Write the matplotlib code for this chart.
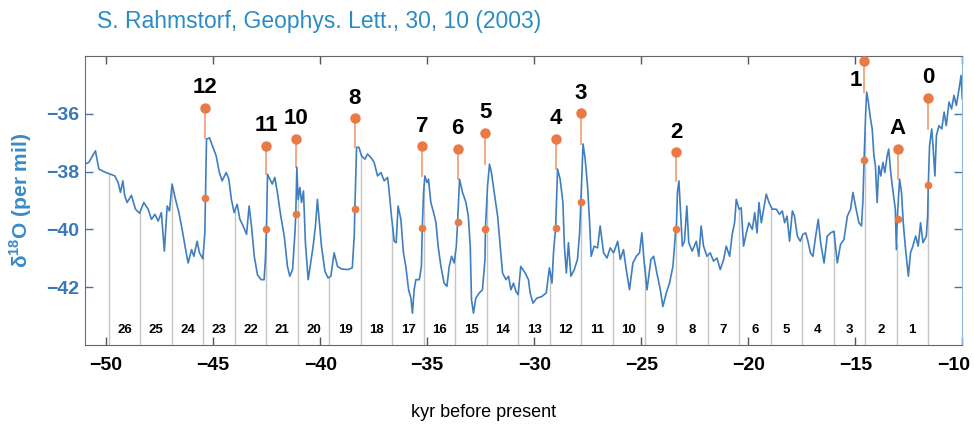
import matplotlib.pyplot as plt
import matplotlib.transforms as mtransforms
import numpy as np

plt.rcParams['font.family'] = ['Liberation Sans', 'DejaVu Sans']
plt.rcParams['mathtext.fontset'] = 'custom'
plt.rcParams['mathtext.rm'] = 'Liberation Sans'
plt.rcParams['mathtext.bf'] = 'Liberation Sans:bold'

# GISP2 delta-18O record (kyr before present, per mil)
age = [-51.0, -50.81, -50.50, -50.34, -50.11, -49.80, -49.59, -49.44, -49.33, -49.22,
       -49.13, -49.02, -48.82, -48.63, -48.44, -48.24, -48.04, -47.88, -47.72, -47.57,
       -47.42, -47.28, -47.15, -47.04, -46.92, -46.76, -46.60, -46.45, -46.26, -46.17,
       -46.01, -45.90, -45.75, -45.64, -45.48, -45.39, -45.36, -45.31, -45.17, -45.01,
       -44.86, -44.71, -44.58, -44.39, -44.27, -44.15, -44.02, -43.88, -43.75, -43.60,
       -43.44, -43.32, -43.21, -43.08, -42.93, -42.76, -42.62, -42.56, -42.51, -42.46,
       -42.35, -42.24, -42.12, -42.00, -41.84, -41.68, -41.53, -41.42, -41.29, -41.18,
       -41.14, -41.09, -41.03, -40.95, -40.87, -40.78, -40.69, -40.56, -40.47, -40.33,
       -40.22, -40.13, -40.05, -39.94, -39.78, -39.63, -39.50, -39.35, -39.19, -39.00,
       -38.69, -38.50, -38.41, -38.38, -38.30, -38.19, -38.07, -37.91, -37.79, -37.63,
       -37.48, -37.32, -37.16, -37.01, -36.85, -36.78, -36.67, -36.54, -36.45, -36.36,
       -36.23, -36.11, -36.00, -35.87, -35.76, -35.69, -35.61, -35.53, -35.37, -35.27,
       -35.23, -35.17, -35.11, -35.01, -34.94, -34.83, -34.70, -34.59, -34.49, -34.36,
       -34.21, -34.08, -33.97, -33.86, -33.74, -33.64, -33.58, -33.49, -33.35, -33.19,
       -33.08, -32.99, -32.93, -32.84, -32.73, -32.57, -32.42, -32.30, -32.28, -32.18,
       -32.09, -32.00, -31.87, -31.71, -31.59, -31.48, -31.32, -31.20, -31.09, -30.97,
       -30.85, -30.75, -30.63, -30.42, -30.27, -30.19, -30.06, -29.88, -29.64, -29.44,
       -29.29, -29.17, -29.10, -29.00, -28.91, -28.79, -28.66, -28.59, -28.50, -28.40,
       -28.29, -28.13, -27.98, -27.88, -27.82, -27.72, -27.62, -27.51, -27.42, -27.34,
       -27.20, -27.04, -26.92, -26.76, -26.60, -26.45, -26.29, -26.10, -25.98, -25.83,
       -25.70, -25.55, -25.39, -25.23, -25.08, -24.97, -24.86, -24.73, -24.55, -24.42,
       -24.27, -24.11, -23.99, -23.83, -23.68, -23.52, -23.40, -23.36, -23.31, -23.24,
       -23.17, -23.08, -22.98, -22.87, -22.78, -22.62, -22.43, -22.31, -22.20, -22.09,
       -21.93, -21.78, -21.62, -21.46, -21.31, -21.15, -21.03, -20.87, -20.75, -20.64,
       -20.56, -20.43, -20.33, -20.22, -20.09, -19.97, -19.81, -19.70, -19.59, -19.50,
       -19.39, -19.28, -19.16, -19.03, -18.88, -18.69, -18.54, -18.41, -18.30, -18.19,
       -18.07, -17.94, -17.84, -17.71, -17.57, -17.45, -17.32, -17.21, -17.10, -16.98,
       -16.85, -16.73, -16.62, -16.46, -16.31, -16.15, -16.00, -15.84, -15.69, -15.53,
       -15.37, -15.22, -15.11, -14.99, -14.83, -14.71, -14.64, -14.59, -14.52, -14.47,
       -14.39, -14.29, -14.21, -14.13, -14.06, -13.98, -13.90, -13.81, -13.71, -13.62,
       -13.51, -13.44, -13.36, -13.29, -13.21, -13.13, -13.08, -13.04, -12.93, -12.84,
       -12.76, -12.65, -12.52, -12.42, -12.31, -12.18, -12.06, -11.95, -11.84, -11.68,
       -11.62, -11.59, -11.53, -11.43, -11.37, -11.28, -11.21, -11.09, -10.96, -10.85,
       -10.75, -10.62, -10.50, -10.39, -10.28, -10.15, -10.06, -10.00]
d18o = [-37.74, -37.68, -37.28, -37.91, -38.00, -38.09, -38.15, -38.38, -38.72, -38.32,
        -38.84, -39.07, -38.82, -39.30, -39.44, -39.07, -39.30, -39.65, -39.48, -39.71,
        -39.42, -40.75, -39.19, -39.36, -38.43, -38.96, -39.42, -40.00, -40.81, -41.16,
        -40.70, -40.93, -40.41, -40.81, -41.02, -40.12, -38.90, -36.87, -36.83, -37.16,
        -37.45, -38.03, -38.32, -38.03, -38.26, -38.96, -39.42, -39.13, -39.65, -39.88,
        -40.17, -39.19, -39.88, -40.93, -41.57, -41.74, -41.74, -41.04, -39.98, -38.09,
        -38.26, -38.43, -38.20, -38.72, -39.54, -40.23, -41.28, -41.62, -41.39, -40.12,
        -39.48, -37.85, -38.96, -38.55, -39.07, -38.67, -40.46, -41.74, -41.28, -40.58,
        -39.88, -38.96, -39.65, -40.58, -41.45, -41.68, -41.62, -40.81, -41.28, -41.37,
        -41.39, -41.33, -40.23, -39.28, -37.16, -37.16, -37.45, -37.57, -37.39, -37.51,
        -37.68, -38.15, -38.03, -38.32, -38.20, -38.67, -39.54, -40.41, -40.46, -39.19,
        -39.65, -40.81, -41.28, -42.09, -42.38, -42.90, -42.09, -41.74, -41.74, -41.28,
        -39.94, -38.72, -38.15, -38.38, -38.26, -39.07, -39.42, -39.77, -40.58, -41.28,
        -41.86, -41.97, -41.28, -40.93, -41.16, -40.58, -39.75, -38.26, -38.72, -39.07,
        -39.54, -40.58, -42.43, -42.90, -42.38, -42.20, -42.09, -41.04, -39.97, -38.49,
        -37.74, -38.03, -38.72, -39.54, -40.58, -41.51, -41.74, -41.62, -42.09, -41.86,
        -42.15, -42.26, -41.28, -41.51, -41.74, -42.20, -42.55, -42.38, -42.32, -42.20,
        -41.33, -41.86, -40.81, -39.94, -37.91, -38.26, -39.07, -40.58, -41.51, -40.46,
        -41.62, -41.39, -41.04, -40.12, -39.04, -37.04, -37.57, -38.49, -39.65, -40.93,
        -40.58, -40.64, -39.88, -40.81, -40.99, -40.64, -40.81, -40.41, -41.04, -40.70,
        -41.39, -42.09, -41.16, -40.93, -40.81, -40.12, -41.16, -42.09, -41.04, -40.93,
        -41.51, -42.09, -42.67, -42.20, -41.86, -41.28, -40.12, -39.97, -38.72, -38.32,
        -39.30, -40.58, -40.41, -39.19, -40.46, -40.75, -40.41, -40.93, -39.88, -40.58,
        -40.93, -40.81, -41.10, -40.99, -41.39, -41.04, -40.58, -40.93, -40.17, -39.77,
        -38.96, -39.30, -39.25, -40.58, -40.12, -39.77, -40.00, -39.42, -40.12, -39.07,
        -39.77, -39.30, -38.78, -39.07, -39.30, -39.30, -39.48, -39.36, -39.77, -39.54,
        -40.41, -39.36, -39.54, -40.23, -40.41, -40.17, -40.12, -40.41, -40.81, -40.93,
        -40.23, -39.65, -40.46, -41.16, -40.23, -40.12, -40.06, -41.16, -40.52, -40.35,
        -39.54, -39.30, -38.72, -39.19, -39.77, -39.88, -38.96, -37.60, -36.06, -35.25,
        -35.59, -36.17, -36.52, -37.45, -37.80, -39.07, -37.80, -38.15, -37.68, -38.03,
        -37.45, -37.22, -37.91, -38.38, -38.84, -39.30, -40.70, -39.63, -38.26, -38.72,
        -39.77, -40.70, -41.62, -40.81, -40.58, -40.23, -40.58, -39.77, -40.46, -40.23,
        -39.54, -38.47, -37.10, -36.52, -37.10, -38.15, -36.75, -36.41, -36.52, -35.94,
        -36.41, -35.59, -35.83, -35.36, -35.71, -35.13, -34.67, -35.48]

# Dansgaard-Oeschger events: name, age, marker level, half-rise level
event_names = ['12', '11', '10', '8', '7', '6', '5', '4', '3', '2', '1', 'A', '0']
event_age = [-45.37, -42.51, -41.14, -38.38, -35.23, -33.58, -32.28, -29.00, -27.82,
             -23.36, -14.59, -13.02, -11.59]
event_top = [-35.79, -37.11, -36.87, -36.15, -37.12, -37.22, -36.66, -36.87, -35.98,
             -37.33, -34.18, -37.22, -35.45]
event_mid = [-38.90, -39.98, -39.48, -39.28, -39.94, -39.75, -39.97, -39.94, -39.04,
             -39.97, -37.60, -39.63, -38.47]

# 1470-year grid
grid_start = -11.6
grid_period = 1.472
cycle_labels = [str(i) for i in range(1, 27)]

age = np.array(age)
d18o = np.array(d18o)
grid_x = grid_start - grid_period * np.arange(len(cycle_labels) + 1)

blue = '#3f7fc0'
orange = '#ea7a45'

fig = plt.figure(figsize=(9.74, 4.28), dpi=100)
ax = fig.add_axes([0.087, 0.194, 0.901, 0.675])
ax.set_xlim(-51, -10)
ax.set_ylim(-44, -34)

# grey grid lines from the bottom up to the curve
grid_top = np.interp(grid_x, age, d18o)
ax.vlines(grid_x, -44, grid_top, color='#c4c4c4', lw=1.0, zorder=1)
for i, lab in enumerate(cycle_labels):
    xm = (grid_x[i] + grid_x[i + 1]) / 2
    ax.text(xm, -43.48, lab, ha='center', va='center', fontsize=9.5, fontweight='bold')

ax.plot(age, d18o, color=blue, lw=1.2, zorder=3)

# event markers
for name, x, top, mid in zip(event_names, event_age, event_top, event_mid):
    sel = (age >= x - 0.05) & (age <= x + 0.3)
    peak = d18o[sel].max()
    ax.plot([x, x], [top, peak], color='#f3a57c', lw=1.3, zorder=2)
    ax.plot(x, top, 'o', color=orange, ms=6.5, zorder=4, clip_on=False)
    ax.plot(x, mid, 'o', color=orange, ms=4.5, zorder=4)
    off = (-6, -14) if name == '1' else (0, 14.5)
    ax.annotate(name, (x, top), xytext=off, textcoords='offset points',
                ha='center', va='center', fontsize=16, fontweight='bold')

ax.set_xticks(np.arange(-50, -9, 5))
ax.set_yticks([-42, -40, -38, -36])
ax.tick_params(axis='x', direction='in', top=True, length=6, width=1,
               color='#555555', labelsize=14, pad=9)
ax.tick_params(axis='y', direction='in', right=True, length=6, width=1,
               color='#4a72a8', labelcolor='#3a78b8', labelsize=14, pad=4)
for lab in ax.get_xticklabels() + ax.get_yticklabels():
    lab.set_fontweight('bold')
# the last tick label sits against the figure edge, nudge it inwards
last = ax.get_xticklabels()[-1]
last.set_transform(last.get_transform() +
                   mtransforms.ScaledTranslation(-9 / 100, 0, fig.dpi_scale_trans))

for side in ['top', 'bottom']:
    ax.spines[side].set_color('#666666')
ax.spines['left'].set_color('#4a72a8')
ax.spines['right'].set_color('#8bbbe6')

ax.set_xlabel('kyr before present', fontsize=13)
ax.xaxis.set_label_coords(0.454, -0.205)
ax.set_ylabel(r'δ$^{\mathbf{18}}$O (per mil)', fontsize=15, fontweight='bold', color='#3a8bc8')
ax.yaxis.set_label_coords(-0.058, 0.5)

fig.text(0.0996, 0.949, 'S. Rahmstorf, Geophys. Lett., 30, 10 (2003)', fontsize=16.5,
         color='#2b8cc4', va='center', ha='left')

fig.savefig('out.png', dpi=100)
